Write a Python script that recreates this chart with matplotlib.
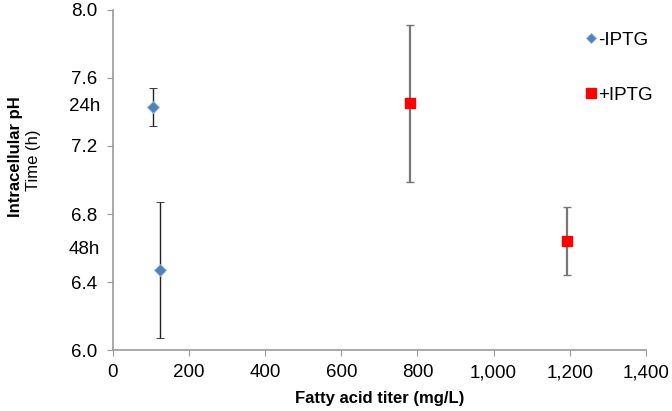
import matplotlib

matplotlib.use("Agg")
import matplotlib.pyplot as plt
from matplotlib.lines import Line2D

plt.rcParams["font.family"] = ["Liberation Sans", "DejaVu Sans"]

# -IPTG: 24h and 48h
minus_x = [105, 123]
minus_ph = [7.43, 6.47]
minus_err = [0.11, 0.40]
# +IPTG: 24h and 48h
plus_x = [781, 1193]
plus_ph = [7.45, 6.64]
plus_err = [0.46, 0.20]

time_labels = ["24h", "48h"]
time_pos = [7.43, 6.59]

x_ticks = [0, 200, 400, 600, 800, 1000, 1200, 1400]
y_ticks = [6.0, 6.4, 6.8, 7.2, 7.6, 8.0]

BLUE = "#4F81BD"
RED = "#FF0000"

fig = plt.figure(figsize=(6.72, 4.11), dpi=100)
ax = fig.add_axes([0.168, 0.148, 0.793, 0.828])

ax.errorbar(minus_x, minus_ph, yerr=minus_err, fmt="D", color=BLUE,
            markeredgecolor="#8DB3E2", markeredgewidth=0.6, markersize=6,
            ecolor="#222222", elinewidth=1.0, capsize=3)
ax.errorbar(plus_x, plus_ph, yerr=plus_err, fmt="s", color=RED,
            markersize=6.8, ecolor="#777777", elinewidth=1.6, capsize=3,
            capthick=1.0)

ax.set_xlim(0, 1400)
ax.set_ylim(6.0, 8.0)
ax.set_xticks(x_ticks)
ax.set_xticklabels([f"{v:,}" for v in x_ticks])
ax.set_yticks(y_ticks)
ax.set_yticklabels([f"{v:.1f}" for v in y_ticks])
ax.tick_params(labelsize=13.5, color="#999999", length=4, direction="out")
ax.tick_params(axis="y", pad=7)
ax.tick_params(axis="x", pad=6)
for side in ("top", "right"):
    ax.spines[side].set_visible(False)
for side in ("left", "bottom"):
    ax.spines[side].set_color("#999999")
    ax.spines[side].set_linewidth(1.2)

for lab, pos in zip(time_labels, time_pos):
    ax.text(-0.024, pos, lab, transform=ax.get_yaxis_transform(),
            ha="right", va="center", fontsize=13.5)

ax.set_xlabel("Fatty acid titer (mg/L)", fontsize=12, fontweight="bold", labelpad=7)
fig.text(0.012, 0.62, "Intracellular pH", rotation=90, ha="left", va="center",
         fontsize=12, fontweight="bold")
fig.text(0.038, 0.61, "Time (h)", rotation=90, ha="left", va="center",
         fontsize=12)

handles = [
    Line2D([], [], linestyle="none", marker="D", color=BLUE,
           markeredgecolor="#8DB3E2", markeredgewidth=0.6, markersize=5.5),
    Line2D([], [], linestyle="none", marker="s", color=RED, markersize=6.5),
]
ax.legend(handles, ["-IPTG", "+IPTG"], loc="upper right",
          bbox_to_anchor=(1.045, 0.985), frameon=False, fontsize=13.5,
          labelspacing=2.0, handlelength=0.5, handletextpad=0.15)

fig.savefig("out.png", dpi=100)
plt.close(fig)
